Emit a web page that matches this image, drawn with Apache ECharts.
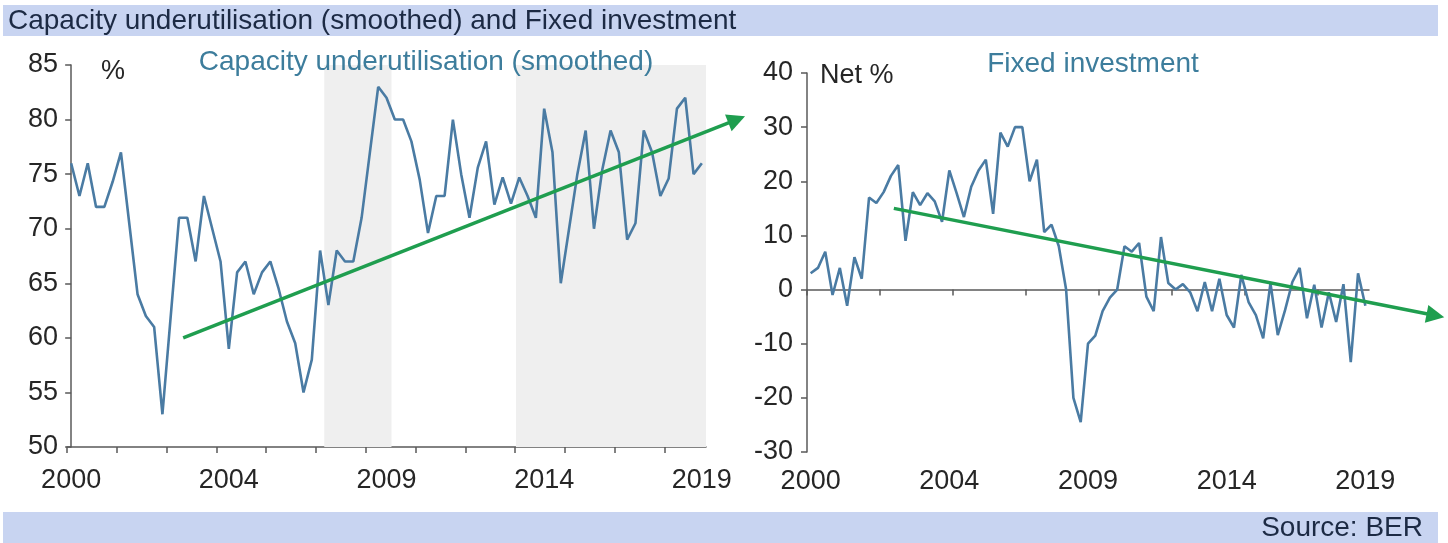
<!DOCTYPE html>
<html>
<head>
<meta charset="utf-8">
<script src="https://cdn.jsdelivr.net/npm/echarts@6/dist/echarts.min.js"></script>
<style>
  html, body { margin: 0; padding: 0; background: #ffffff; }
  #chart { width: 1448px; height: 543px; }
</style>
</head>
<body>
<div id="chart"></div>
<script>
// Quarterly observations, 2000Q1 .. 2019Q1 (index 0 .. 76)
const yearLabelIdx = [0, 19, 38, 57, 76];
const yearLabels = ['2000', '2004', '2009', '2014', '2019'];

// Capacity underutilisation (smoothed), %
const capacity = [
  76, 73, 76, 72, 72, 74.3, 77, 70.5, 64, 62,
  61, 53, 62, 71, 71, 67, 73, 70, 67, 59,
  66, 67, 64, 66, 67, 64.5, 61.5, 59.5, 55, 58,
  68, 63, 68, 67, 67, 71, 77, 83, 82, 80,
  80, 78, 74.5, 69.6, 73, 73, 80, 75, 71, 75.6,
  78, 72.2, 74.7, 72.3, 74.7, 73, 71, 81, 77, 65,
  70, 75, 79, 70, 75.4, 79, 77, 69, 70.5, 79,
  77, 73, 74.6, 81, 82, 75, 76
];

// Fixed investment, net %
const investment = [
  3, 4, 7, -1, 4, -3, 6, 2, 17, 16,
  18, 21, 23, 9, 18, 15.6, 17.8, 16.3, 12.5, 22,
  17.8, 13.4, 19, 22, 24, 14, 29, 26.4, 30, 30,
  20, 24, 10.6, 12, 8, 0, -20, -24.5, -10, -8.5,
  -4, -1.5, 0, 8, 7, 8.6, -1.3, -4, 9.7, 1.2,
  0, 1, -0.5, -4, 1.4, -4, 2, -4.7, -7, 2.7,
  -2.3, -4.7, -9, 1.2, -8.4, -3.8, 1.4, 4, -5.3, 0.9,
  -7, -0.5, -6, 1, -13.4, 3, -3
];

// Trend arrows: [quarter index, value] at start and tip
const capacityTrend = [[13.5, 60], [80.2, 80]];
const investmentTrend = [[11.4, 15], [85.6, -4.8]];

// Shaded periods on the capacity panel (quarter index ranges)
const shadedPeriods = [[30.5, 38.6], [53.6, 76.5]];

// Tick positions along the time axes
const capacityTicks = [-0.5, 5.5, 11.5, 17.5, 23.5, 29.5, 35.5, 41.5, 47.5, 53.5, 59.5, 65.5, 71.5];
const investmentTicks = [-0.5, 9.5, 19.5, 29.5, 39.5, 49.5, 59.5, 69.5];

const FONT = "'Liberation Sans', Arial, sans-serif";
const LINE_BLUE = '#4a7ba3';
const TREND_GREEN = '#1f9e4f';
const AXIS_GREY = '#5a5a5a';
const TEXT_DARK = '#262626';
const LABEL_TEAL = '#3d7d9c';
const BAR_BLUE = '#c8d4f1';

const yearFormatter = v => {
  const i = yearLabelIdx.indexOf(Math.round(v));
  return i >= 0 ? yearLabels[i] : '';
};

const toPairs = arr => arr.map((v, i) => [i, v]);

const chart = echarts.init(document.getElementById('chart'), null, { renderer: 'canvas' });

const option = {
  animation: false,
  backgroundColor: '#ffffff',
  textStyle: { fontFamily: FONT },
  grid: [
    { left: 67, top: 65, width: 639, height: 382, containLabel: false },
    { left: 807, top: 73, width: 562, height: 379, containLabel: false }
  ],
  xAxis: [
    {
      gridIndex: 0, type: 'value', min: -0.5, max: 76.5,
      axisLine: { show: true, onZero: false, lineStyle: { color: AXIS_GREY, width: 1.5 } },
      axisTick: { show: true, customValues: capacityTicks, length: 6, lineStyle: { color: AXIS_GREY, width: 1.5 } },
      axisLabel: { customValues: yearLabelIdx, formatter: yearFormatter, fontSize: 27, color: TEXT_DARK, margin: 20, fontFamily: FONT },
      splitLine: { show: false }
    },
    {
      gridIndex: 1, type: 'value', min: -0.5, max: 76.5,
      axisLine: { show: false, onZero: false },
      axisTick: { show: false },
      axisLabel: { customValues: yearLabelIdx, formatter: yearFormatter, fontSize: 27, color: TEXT_DARK, margin: 16, fontFamily: FONT },
      splitLine: { show: false }
    },
    {
      gridIndex: 1, type: 'value', min: -0.5, max: 76.5, position: 'bottom',
      axisLine: { show: true, onZero: true, lineStyle: { color: AXIS_GREY, width: 1.5 } },
      axisTick: { show: true, customValues: investmentTicks, length: 6, lineStyle: { color: AXIS_GREY, width: 1.5 } },
      axisLabel: { show: false },
      splitLine: { show: false }
    }
  ],
  yAxis: [
    {
      gridIndex: 0, type: 'value', min: 50, max: 85, interval: 5,
      axisLine: { show: true, lineStyle: { color: AXIS_GREY, width: 1.5 } },
      axisTick: { show: true, length: 6, lineStyle: { color: AXIS_GREY, width: 1.5 } },
      axisLabel: { fontSize: 27, color: TEXT_DARK, margin: 9, fontFamily: FONT },
      splitLine: { show: false }
    },
    {
      gridIndex: 1, type: 'value', min: -30, max: 40, interval: 10,
      axisLine: { show: true, onZero: false, lineStyle: { color: AXIS_GREY, width: 1.5 } },
      axisTick: { show: true, length: 6, lineStyle: { color: AXIS_GREY, width: 1.5 } },
      axisLabel: { fontSize: 27, color: TEXT_DARK, margin: 14, fontFamily: FONT },
      splitLine: { show: false }
    }
  ],
  series: [
    {
      name: 'Capacity underutilisation (smoothed)',
      type: 'line', xAxisIndex: 0, yAxisIndex: 0,
      data: toPairs(capacity),
      showSymbol: false, symbol: 'none',
      lineStyle: { color: LINE_BLUE, width: 2.6 },
      z: 3,
      markArea: {
        silent: true,
        itemStyle: { color: '#efefef' },
        data: shadedPeriods.map(p => [{ xAxis: p[0] }, { xAxis: p[1] }])
      }
    },
    {
      name: 'Capacity trend',
      type: 'lines', coordinateSystem: 'cartesian2d', xAxisIndex: 0, yAxisIndex: 0,
      clip: false, z: 4,
      symbol: ['none', 'triangle'], symbolSize: [16, 18],
      lineStyle: { color: TREND_GREEN, width: 3.5, opacity: 1, curveness: 0 },
      itemStyle: { color: TREND_GREEN },
      data: [{ coords: capacityTrend }]
    },
    {
      name: 'Fixed investment',
      type: 'line', xAxisIndex: 2, yAxisIndex: 1,
      data: toPairs(investment),
      showSymbol: false, symbol: 'none',
      lineStyle: { color: LINE_BLUE, width: 2.6 },
      z: 3
    },
    {
      name: 'Investment trend',
      type: 'lines', coordinateSystem: 'cartesian2d', xAxisIndex: 2, yAxisIndex: 1,
      clip: false, z: 4,
      symbol: ['none', 'triangle'], symbolSize: [16, 18],
      lineStyle: { color: TREND_GREEN, width: 3.5, opacity: 1, curveness: 0 },
      itemStyle: { color: TREND_GREEN },
      data: [{ coords: investmentTrend }]
    }
  ],
  graphic: [
    // header and footer bands
    { type: 'rect', shape: { x: 3, y: 5, width: 1435, height: 31 }, style: { fill: BAR_BLUE }, z: 0 },
    { type: 'rect', shape: { x: 3, y: 512, width: 1435, height: 31 }, style: { fill: BAR_BLUE }, z: 0 },
    {
      type: 'text', x: 8, y: 21, z: 10,
      style: { text: 'Capacity underutilisation (smoothed) and Fixed investment', font: '28px ' + FONT, fill: '#1c2a44', textVerticalAlign: 'middle' }
    },
    {
      type: 'text', x: 1423, y: 528, z: 10,
      style: { text: 'Source: BER', font: '28px ' + FONT, fill: '#1c2a44', textAlign: 'right', textVerticalAlign: 'middle' }
    },
    // panel captions
    {
      type: 'text', x: 426, y: 62, z: 10,
      style: { text: 'Capacity underutilisation (smoothed)', font: '28px ' + FONT, fill: LABEL_TEAL, textAlign: 'center', textVerticalAlign: 'middle' }
    },
    {
      type: 'text', x: 1093, y: 64, z: 10,
      style: { text: 'Fixed investment', font: '28px ' + FONT, fill: LABEL_TEAL, textAlign: 'center', textVerticalAlign: 'middle' }
    },
    {
      type: 'text', x: 113, y: 72, z: 10,
      style: { text: '%', font: '27px ' + FONT, fill: TEXT_DARK, textAlign: 'center', textVerticalAlign: 'middle' }
    },
    {
      type: 'text', x: 820, y: 76, z: 10,
      style: { text: 'Net %', font: '27px ' + FONT, fill: TEXT_DARK, textAlign: 'left', textVerticalAlign: 'middle' }
    }
  ]
};

chart.setOption(option);
</script>
</body>
</html>
